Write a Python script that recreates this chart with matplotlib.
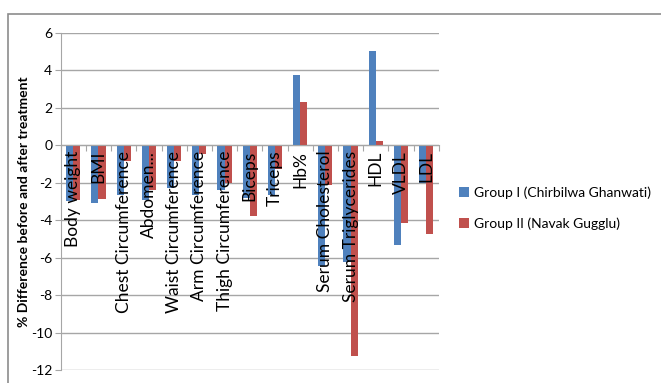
import numpy as np
import matplotlib
matplotlib.use("Agg")
import matplotlib.pyplot as plt
from matplotlib.patches import Rectangle

plt.rcParams['font.family'] = ['Lato', 'DejaVu Sans']

# =================================================
# Data
# =================================================
categories = ["Body weight", "BMI", "Chest Circumference", "Abdomen...",
              "Waist Circumference", "Arm Circumference", "Thigh Circumference",
              "Biceps", "Triceps", "Hb%", "Serum Cholesterol",
              "Serum Triglycerides", "HDL", "VLDL", "LDL"]
group1 = [-3.0, -3.07, -2.63, -2.9, -2.27, -2.68, -2.38, -2.82, -2.63,
          3.73, -6.47, -6.24, 5.04, -5.35, -2.0]
group2 = [-2.9, -2.86, -0.86, -2.4, -0.86, -0.48, -2.02, -3.79, -1.25,
          2.32, -2.14, -11.27, 0.21, -4.13, -4.72]
series_names = ["Group I (Chirbilwa Ghanwati)", "Group II (Navak Gugglu)"]
yticks = list(range(-12, 7, 2))

blue = "#4F81BD"
red = "#C0504D"
grid_col = "#A6A6A6"

# =================================================
# Figure
# =================================================
fig = plt.figure(figsize=(6.61, 3.83), dpi=100)
ax = fig.add_axes([0.0918, 0.034, 0.572, 0.880])
ax.set_axisbelow(True)

# outer chart border (cut off at right and bottom)
fig.patches.append(Rectangle((8 / 661, -0.05), 1.1, 1 - 14 / 383 + 0.05,
                             transform=fig.transFigure, fill=False,
                             edgecolor="#8C8C8C", linewidth=1.2))

x = np.arange(len(categories))
w = 0.28
ax.bar(x - w / 2, group1, w, color=blue, label=series_names[0], zorder=2)
ax.bar(x + w / 2, group2, w, color=red, label=series_names[1], zorder=2)

ax.set_xlim(-0.5, len(categories) - 0.5)
ax.set_ylim(-12, 6)
ax.set_yticks(yticks)
ax.set_yticklabels([str(v) for v in yticks], fontsize=10)
ax.yaxis.grid(True, color=grid_col, linewidth=1.0)

for s in ["top", "right"]:
    ax.spines[s].set_visible(False)
ax.spines["left"].set_color(grid_col)
ax.spines["bottom"].set_position(("data", 0))
ax.spines["bottom"].set_color(grid_col)
ax.spines["bottom"].set_zorder(4)

ax.tick_params(axis="y", length=4, color=grid_col, pad=2)
ax.set_xticks(np.arange(-0.5, len(categories)))
ax.set_xticklabels([])
ax.tick_params(axis="x", length=4, color=grid_col, direction="out")

# category labels drawn over the bars, just under the zero line
for xi, name in zip(x, categories):
    ax.annotate(name, xy=(xi, 0), xytext=(0, -4), textcoords="offset points",
                rotation=90, ha="center", va="top", fontsize=12.5,
                color="black", zorder=5)

ax.set_ylabel("% Difference before and after treatment", fontsize=10,
              fontweight="bold", labelpad=1)

ax.legend(loc="center left", bbox_to_anchor=(1.02, 0.48), frameon=False,
          fontsize=10, handlelength=0.7, handleheight=0.7, handletextpad=0.4,
          labelspacing=1.3)

fig.savefig("out.png", dpi=100)
